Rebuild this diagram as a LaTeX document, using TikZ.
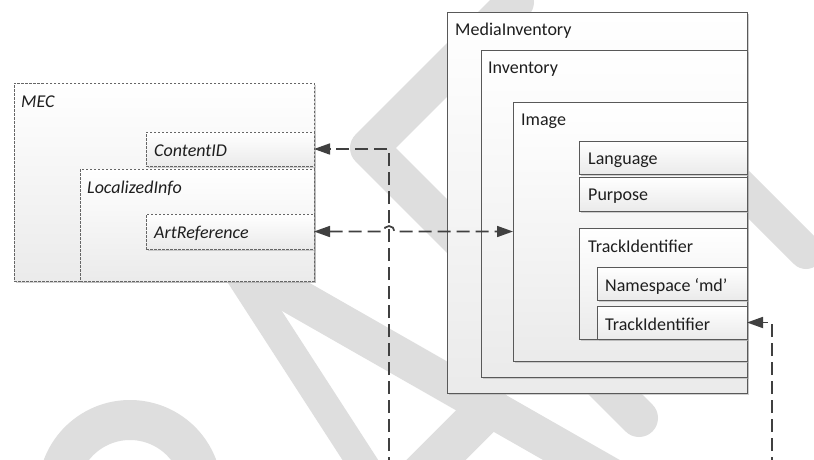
\documentclass[tikz,border=0pt]{standalone}
\usepackage{fontspec}
\setmainfont{Carlito}
\usetikzlibrary{arrows.meta,shadows}
\definecolor{wmgray}{RGB}{222,222,222}
\definecolor{edge}{RGB}{89,89,89}
\definecolor{conncol}{RGB}{64,64,64}
\definecolor{txt}{RGB}{30,30,30}
\begin{document}
\begin{tikzpicture}[x=1pt,y=1pt,
  box/.style={draw=edge, line width=0.9pt, top color=white, bottom color=black!8,
    inner sep=0pt, outer sep=0pt, anchor=north west,
    drop shadow={shadow xshift=1.5pt,shadow yshift=-1.5pt,fill=black!30,opacity=0.6}},
  dbox/.style={box, draw=black!60, line width=0.8pt, dash pattern=on 2.5pt off 1.5pt},
  lbl/.style={anchor=base west, inner sep=0pt, text=txt, font=\fontsize{18}{20}\selectfont},
  ilbl/.style={lbl, font=\fontsize{18}{20}\selectfont\itshape},
  wm/.style={draw=wmgray, line cap=round, line join=round},
  conn/.style={draw=conncol, line width=1.7pt, dash pattern=on 13pt off 6pt},
  head/.style={-{Triangle[length=16pt,width=11pt]}},
  heads/.style={{Triangle[length=16pt,width=11pt]}-{Triangle[length=16pt,width=11pt]}}
]
\useasboundingbox (0,0) rectangle (814,-459);
\clip (0,0) rectangle (814,-459);
\fill[white] (0,0) rectangle (814,-459);

% background watermark strokes
\draw[wm, line width=40pt] (130,-492) ++(215:72) arc[start angle=215,end angle=-35,radius=72];
\draw[wm, line width=30pt] (425,-560) -- (231,-260);
\draw[wm, line width=38pt] (231,-260) -- (620,-482);
\draw[wm, line width=42pt] (390,-506) -- (489,-407);
\draw[wm, line width=38pt] (639,-418) -- (369,-148) -- (515,-2);
\draw[wm, line width=34pt] (660,-106) -- (806,-252);

% left group (dashed)
\node[dbox, minimum width=300pt, minimum height=198pt] (mec) at (14,-83) {};
\node[ilbl] (mecT) at ([shift={(7,-24)}]mec.north west) {MEC};
\node[dbox, minimum width=168pt, minimum height=34pt] (cid) at (146,-132) {};
\node[ilbl] (cidT) at ([shift={(8,-24)}]cid.north west) {ContentID};
\node[dbox, minimum width=234pt, minimum height=112pt] (loc) at (80,-169) {};
\node[ilbl] (locT) at ([shift={(7,-24)}]loc.north west) {LocalizedInfo};
\node[dbox, minimum width=168pt, minimum height=35pt] (art) at (146,-214) {};
\node[ilbl] (artT) at ([shift={(8,-24)}]art.north west) {ArtReference};

% right group (nested solid boxes)
\node[box, minimum width=300pt, minimum height=381pt] (mi) at (447,-12) {};
\node[lbl] (miT) at ([shift={(8,-23)}]mi.north west) {MediaInventory};
\node[box, minimum width=266pt, minimum height=327pt] (inv) at (481,-50) {};
\node[lbl] (invT) at ([shift={(7,-23)}]inv.north west) {Inventory};
\node[box, minimum width=234pt, minimum height=259pt] (img) at (513,-102) {};
\node[lbl] (imgT) at ([shift={(8,-23)}]img.north west) {Image};
\node[box, minimum width=168pt, minimum height=33pt] (lang) at (579,-141) {};
\node[lbl] (langT) at ([shift={(9,-23)}]lang.north west) {Language};
\node[box, minimum width=168pt, minimum height=34pt] (purp) at (579,-177) {};
\node[lbl] (purpT) at ([shift={(9,-23)}]purp.north west) {Purpose};
\node[box, minimum width=168pt, minimum height=111pt] (ti) at (579,-228) {};
\node[lbl] (tiT) at ([shift={(9,-24)}]ti.north west) {TrackIdentifier};
\node[box, minimum width=150pt, minimum height=33pt] (ns) at (597,-267) {};
\node[lbl] (nsT) at ([shift={(8,-24)}]ns.north west) {Namespace ‘md’};
\node[box, minimum width=150pt, minimum height=33pt] (ti2) at (597,-306) {};
\node[lbl] (ti2T) at ([shift={(8,-24)}]ti2.north west) {TrackIdentifier};

% connectors
\coordinate (c1s) at (389,-470);
\coordinate (hopL) at (383.5,-231.5);
\coordinate (c3s) at (772,-470);
\draw[conn, head] (c1s) |- (cid.east);
\draw[conn, heads] (art.east) -- (hopL) arc[start angle=180,end angle=0,radius=5.5] -- (art.east -| img.west);
\draw[conn, head] (c3s) |- (ti2.east);
\end{tikzpicture}
\end{document}
